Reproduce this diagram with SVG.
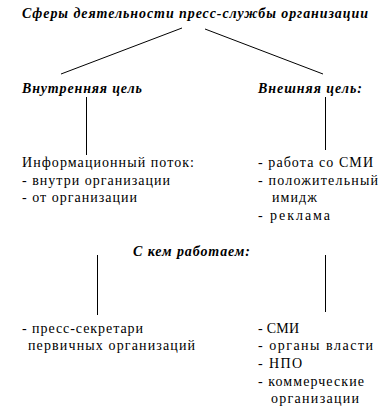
<svg xmlns="http://www.w3.org/2000/svg" width="387" height="414" viewBox="0 0 387 414">
<rect width="387" height="414" fill="#fff"/>
<g id="connectors" stroke="#000" stroke-width="1">
<line x1="182" y1="28" x2="61" y2="74"/>
<line x1="205" y1="29" x2="323" y2="74"/>
<line x1="86.5" y1="97" x2="86.5" y2="155"/>
<line x1="325.5" y1="97" x2="325.5" y2="150"/>
<line x1="97.5" y1="255" x2="97.5" y2="315"/>
<line x1="325.5" y1="255" x2="325.5" y2="312"/>
</g>
<g id="root"><text style="font-family:'Liberation Serif',serif;font-size:14px;font-weight:bold;font-style:italic" x="22" y="18" textLength="346">Сферы деятельности пресс-службы организации</text></g>
<g id="inner"><text style="font-family:'Liberation Serif',serif;font-size:14px;font-weight:bold;font-style:italic" x="22" y="93" textLength="120">Внутренняя цель</text></g>
<g id="outer"><text style="font-family:'Liberation Serif',serif;font-size:14px;font-weight:bold;font-style:italic" x="258" y="93" textLength="104">Внешняя цель:</text></g>
<g id="inner-list">
<text style="font-family:'Liberation Serif',serif;font-size:14px" x="22" y="167" textLength="172">Информационный поток:</text>
<text style="font-family:'Liberation Serif',serif;font-size:14px" x="22" y="184.5" textLength="148">- внутри организации</text>
<text style="font-family:'Liberation Serif',serif;font-size:14px" x="22" y="202" textLength="115">- от организации</text>
</g>
<g id="outer-list">
<text style="font-family:'Liberation Serif',serif;font-size:14px" x="258" y="167" textLength="115">- работа со СМИ</text>
<text style="font-family:'Liberation Serif',serif;font-size:14px" x="258" y="184.5" textLength="120">- положительный</text>
<text style="font-family:'Liberation Serif',serif;font-size:14px" x="272" y="202" textLength="45">имидж</text>
<text style="font-family:'Liberation Serif',serif;font-size:14px" x="258" y="220" textLength="72">- реклама</text>
</g>
<g id="who"><text style="font-family:'Liberation Serif',serif;font-size:14px;font-weight:bold;font-style:italic" x="133" y="256" textLength="117">С кем работаем:</text></g>
<g id="who-left">
<text style="font-family:'Liberation Serif',serif;font-size:14px" x="22" y="333" textLength="121">- пресс-секретари</text>
<text style="font-family:'Liberation Serif',serif;font-size:14px" x="28" y="350" textLength="167">первичных организаций</text>
</g>
<g id="who-right">
<text style="font-family:'Liberation Serif',serif;font-size:14px" x="258" y="333" textLength="41">- СМИ</text>
<text style="font-family:'Liberation Serif',serif;font-size:14px" x="258" y="350" textLength="115">- органы власти</text>
<text style="font-family:'Liberation Serif',serif;font-size:14px" x="258" y="368" textLength="44">- НПО</text>
<text style="font-family:'Liberation Serif',serif;font-size:14px" x="258" y="386" textLength="106">- коммерческие</text>
<text style="font-family:'Liberation Serif',serif;font-size:14px" x="271" y="403" textLength="88">организации</text>
</g>
</svg>
